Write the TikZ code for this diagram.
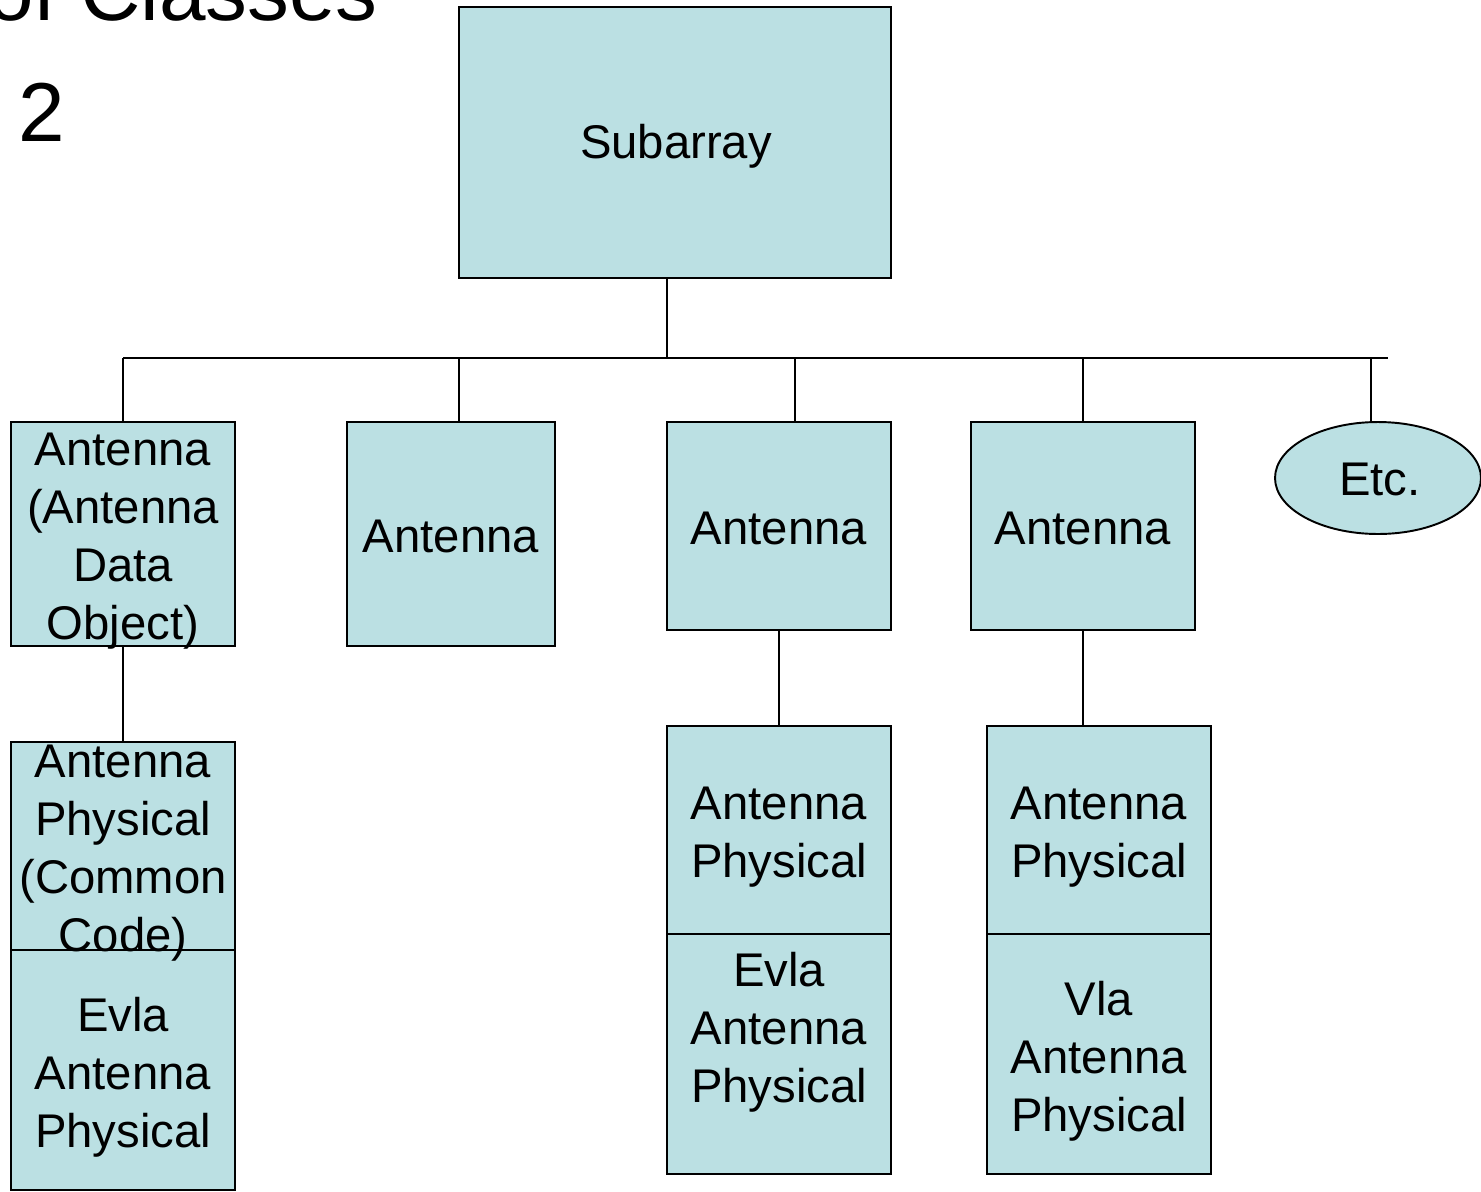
\documentclass[tikz,border=0pt]{standalone}
\usepackage{fontspec}
\setmainfont{Liberation Sans}
\usetikzlibrary{shapes.geometric}
\definecolor{boxblue}{HTML}{BBE0E3}
\tikzset{
  box/.style={draw, fill=boxblue, line width=1.1pt, inner sep=0pt},
  lbl/.style={align=center, inner sep=0pt, font=\fontsize{26.9}{32.9}\selectfont},
  big/.style={anchor=base west, inner sep=0pt, font=\fontsize{47.6}{57}\selectfont},
  link/.style={line width=1.1pt},
}
\begin{document}
\begin{tikzpicture}[x=0.02cm,y=-0.02cm]
    \useasboundingbox (0,0) rectangle (1481,1191);
    \clip (0,0) rectangle (1481,1191);
    % Title
    \node[big] (title) at (-13,20) {of Classes};
    \node[big] (num) at (18,141) {2};
    % Boxes
    \node[box, minimum width=8.64cm, minimum height=5.42cm] (sub) at (675,142.5) {};
    \node[box, minimum width=4.48cm, minimum height=4.48cm] (ado) at (123,534) {};
    \node[box, minimum width=4.16cm, minimum height=4.48cm] (ant2) at (451,534) {};
    \node[box, minimum width=4.48cm, minimum height=4.16cm] (ant3) at (779,526) {};
    \node[box, minimum width=4.48cm, minimum height=4.16cm] (ant4) at (1083,526) {};
    \node[box, ellipse, minimum width=4.12cm, minimum height=2.24cm] (etc) at (1378,478) {};
    \node[box, minimum width=4.48cm, minimum height=4.16cm] (phys1) at (123,846) {};
    \node[box, minimum width=4.48cm, minimum height=4.8cm] (evla1) at (123,1070) {};
    \node[box, minimum width=4.48cm, minimum height=4.16cm] (phys3) at (779,830) {};
    \node[box, minimum width=4.48cm, minimum height=4.8cm] (evla3) at (779,1054) {};
    \node[box, minimum width=4.48cm, minimum height=4.16cm] (phys4) at (1099,830) {};
    \node[box, minimum width=4.48cm, minimum height=4.8cm] (vla4) at (1099,1054) {};
    % Writing
    \node[lbl] at (676,146) {Subarray};
    \node[lbl] at (123,541) {Antenna\\(Antenna\\Data\\Object)};
    \node[lbl] at (451,536) {Antenna};
    \node[lbl] at (779,528) {Antenna};
    \node[lbl] at (1083,528) {Antenna};
    \node[lbl] at (1380,479) {Etc.};
    \node[lbl] at (123,853) {Antenna\\Physical\\(Common\\Code)};
    \node[lbl] at (123,1077) {Evla\\Antenna\\Physical};
    \node[lbl] at (779,837) {Antenna\\Physical};
    \node[lbl] at (779,1032) {Evla\\Antenna\\Physical};
    \node[lbl] at (1099,837) {Antenna\\Physical};
    \node[lbl] at (1099,1061) {Vla\\Antenna\\Physical};
    % Coordinate
    \coordinate (bus0) at (667,358);
    \coordinate (busL) at (123,358);
    \coordinate (busR) at (1388,358);
    \coordinate (d2) at (459,358);
    \coordinate (d3) at (795,358);
    \coordinate (d5) at (1371,358);
    % Lines
    \draw[link] (sub.south -| bus0) -- (bus0);
    \draw[link] (busL) -- (busR);
    \draw[link] (busL) -- (ado.north);
    \draw[link] (d2) -- (d2 |- ant2.north);
    \draw[link] (d3) -- (d3 |- ant3.north);
    \draw[link] (ant4.north |- bus0) -- (ant4.north);
    \draw[link] (d5) -- (d5 |- etc.north);
    \draw[link] (ado.south) -- (phys1.north);
    \draw[link] (ant3.south) -- (phys3.north);
    \draw[link] (ant4.south) -- (ant4.south |- phys4.north);
\end{tikzpicture}
\end{document}
